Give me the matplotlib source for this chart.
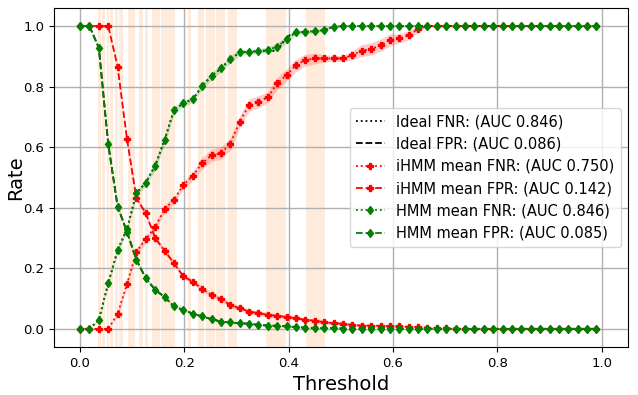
import matplotlib
matplotlib.use("Agg")
import matplotlib.pyplot as plt
import numpy as np

# thresholds at which the rates were evaluated
thresholds = np.linspace(0, 0.99, 56)

ideal_fnr = [0, 0, 0.03, 0.151, 0.26, 0.33, 0.448, 0.483, 0.539, 0.624,
             0.723, 0.745, 0.758, 0.802, 0.835, 0.86, 0.89, 0.913, 0.915, 0.917,
             0.919, 0.918, 0.965, 0.979, 0.981, 0.983, 0.987, 0.998] + [1.0] * 28
ideal_fpr = [1, 1, 0.928, 0.61, 0.404, 0.32, 0.228, 0.167, 0.129, 0.105,
             0.074, 0.063, 0.05, 0.041, 0.032, 0.024, 0.021, 0.019, 0.017, 0.013,
             0.011, 0.01, 0.008, 0.006, 0.004, 0.003, 0.002, 0.002, 0.001, 0.001] + [0.0] * 26

ihmm_fnr = [0, 0, 0, 0, 0.05, 0.149, 0.255, 0.296, 0.336, 0.396,
            0.426, 0.475, 0.505, 0.547, 0.573, 0.58, 0.611, 0.684, 0.739, 0.75,
            0.765, 0.811, 0.838, 0.871, 0.888, 0.893, 0.893, 0.893, 0.893, 0.904,
            0.919, 0.924, 0.937, 0.954, 0.959, 0.97, 0.99] + [1.0] * 19
ihmm_fnr_std = [0, 0, 0, 0, 0.01, 0.012, 0.012, 0.012, 0.012, 0.012,
                0.012, 0.012, 0.015, 0.02, 0.02, 0.02, 0.02, 0.02, 0.02, 0.02,
                0.018, 0.02, 0.02, 0.02, 0.02, 0.018, 0.012, 0.01, 0.01, 0.015,
                0.02, 0.02, 0.02, 0.02, 0.015, 0.015, 0.01] + [0.0] * 19
ihmm_fpr = [1, 1, 1, 1, 0.866, 0.626, 0.431, 0.382, 0.3, 0.258,
            0.217, 0.173, 0.156, 0.132, 0.112, 0.098, 0.079, 0.068, 0.057, 0.052,
            0.046, 0.043, 0.039, 0.035, 0.03, 0.027, 0.022, 0.019, 0.017, 0.013,
            0.011, 0.011, 0.01, 0.008, 0.008, 0.007, 0.006, 0.004, 0.003, 0.002,
            0.001] + [0.0] * 15
ihmm_fpr_std = [0, 0, 0, 0, 0.005, 0.008, 0.008, 0.008, 0.008, 0.008,
                0.008, 0.008, 0.008, 0.008, 0.008, 0.008, 0.008, 0.008, 0.008, 0.008,
                0.008, 0.006, 0.006, 0.006, 0.005, 0.005, 0.005, 0.005, 0.004, 0.004,
                0.004, 0.004, 0.003, 0.003, 0.003, 0.003, 0.002, 0.002, 0.001, 0.001,
                0.0] + [0.0] * 15

hmm_fnr = [0, 0, 0.03, 0.151, 0.26, 0.33, 0.448, 0.483, 0.539, 0.624,
           0.723, 0.745, 0.758, 0.802, 0.835, 0.86, 0.89, 0.913, 0.915, 0.917,
           0.921, 0.932, 0.957, 0.979, 0.981, 0.983, 0.987, 0.998] + [1.0] * 28
hmm_fnr_std = [0, 0, 0.005, 0.008, 0.008, 0.008, 0.01, 0.012, 0.015, 0.015,
               0.012, 0.01, 0.01, 0.012, 0.012, 0.012, 0.012, 0.01, 0.008, 0.008,
               0.01, 0.012, 0.012, 0.008, 0.006, 0.005, 0.005, 0.002] + [0.0] * 28
hmm_fpr = [1, 1, 0.928, 0.61, 0.404, 0.32, 0.228, 0.167, 0.129, 0.105,
           0.074, 0.063, 0.05, 0.041, 0.032, 0.024, 0.021, 0.019, 0.017, 0.013,
           0.011, 0.01, 0.008, 0.006, 0.004, 0.003, 0.002, 0.002, 0.001, 0.001] + [0.0] * 26
hmm_fpr_std = [0, 0, 0.006, 0.006, 0.006, 0.006, 0.005, 0.005, 0.005, 0.004,
               0.004, 0.004, 0.003, 0.003, 0.003, 0.003, 0.002, 0.002, 0.002, 0.002,
               0.001, 0.001, 0.001, 0.001, 0.001, 0.0, 0.0, 0.0, 0.0, 0.0] + [0.0] * 26

# shaded threshold intervals
spans = [(0.035, 0.0395), (0.0427, 0.0478), (0.051, 0.056), (0.057, 0.0637),
         (0.067, 0.073), (0.075, 0.0816), (0.092, 0.105), (0.113, 0.121),
         (0.124, 0.131), (0.137, 0.153), (0.156, 0.166), (0.167, 0.182),
         (0.207, 0.2135), (0.226, 0.237), (0.242, 0.258), (0.261, 0.277),
         (0.284, 0.300), (0.357, 0.395), (0.433, 0.470)]

labels = ["Ideal FNR: (AUC 0.846)", "Ideal FPR: (AUC 0.086)",
          "iHMM mean FNR: (AUC 0.750)", "iHMM mean FPR: (AUC 0.142)",
          "HMM mean FNR: (AUC 0.846)", "HMM mean FPR: (AUC 0.085)"]

fig = plt.figure(figsize=(6.38, 3.95), dpi=100)
ax = fig.add_axes((0.0846, 0.1215, 0.8994, 0.8585))

for lo, hi in spans:
    ax.axvspan(lo, hi, color="C1", alpha=0.15, lw=0, zorder=0)

# ideal curves underneath the means
ax.plot(thresholds, ideal_fnr, "k:", lw=1.3, label=labels[0], zorder=2)
ax.plot(thresholds, ideal_fpr, "k--", lw=1.3, label=labels[1], zorder=2)

for mean, std, style, lab in [(ihmm_fnr, ihmm_fnr_std, ":", labels[2]),
                              (ihmm_fpr, ihmm_fpr_std, "--", labels[3])]:
    m = np.array(mean)
    s = np.array(std)
    ax.plot(thresholds, m, linestyle=style, color="red", marker="P",
            markersize=4.5, lw=1.3, label=lab, zorder=3)
    ax.fill_between(thresholds, m - s, m + s, color="red", alpha=0.2, lw=0)

for mean, std, style, lab in [(hmm_fnr, hmm_fnr_std, ":", labels[4]),
                              (hmm_fpr, hmm_fpr_std, "--", labels[5])]:
    m = np.array(mean)
    s = np.array(std)
    ax.plot(thresholds, m, linestyle=style, color="green", marker="d",
            markersize=4.5, lw=1.3, label=lab, zorder=3)
    ax.fill_between(thresholds, m - s, m + s, color="green", alpha=0.2, lw=0)

ax.set_xlim(-0.05, 1.05)
ax.set_ylim(-0.06, 1.06)
ax.set_xticks([0.0, 0.2, 0.4, 0.6, 0.8, 1.0])
ax.set_yticks([0.0, 0.2, 0.4, 0.6, 0.8, 1.0])
ax.tick_params(labelsize=9.5)
ax.grid(True, color="#b0b0b0", lw=1)
ax.set_axisbelow(True)
ax.set_xlabel("Threshold", fontsize=14)
ax.set_ylabel("Rate", fontsize=14)
ax.yaxis.set_label_coords(-0.05, 0.5)

ax.legend(loc="center right", fontsize=10.5)

fig.savefig("out.png", dpi=100)
